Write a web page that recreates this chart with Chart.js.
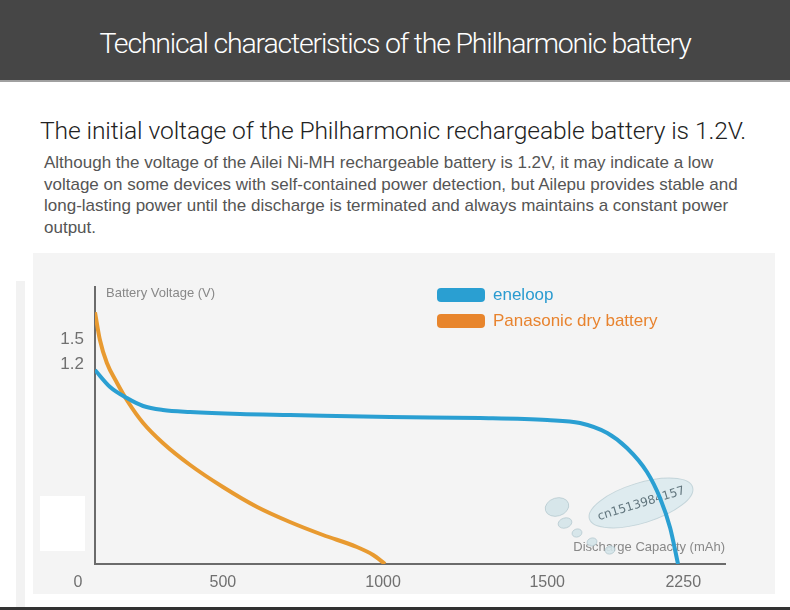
<!DOCTYPE html>
<html lang="en">
<head>
    <meta charset="UTF-8">
    <title>Philharmonic battery discharge</title>
    <script src="https://cdn.jsdelivr.net/npm/chart.js"></script>
    <style>
        body {
            margin: 0;
            width: 790px;
            height: 610px;
            background: #fff;
            position: relative;
            overflow: hidden;
            font-family: "Liberation Sans", Arial, sans-serif;
        }

        .header {
            position: absolute;
            left: 0; top: 0;
            width: 790px; height: 80px;
            background: #464646;
            border-bottom: 2px solid #a0a0a0;
        }

        .header h1 {
            margin: 0;
            position: absolute;
            left: 0; width: 790px;
            top: 25px;
            text-align: center;
            color: #fff;
            font-family: Roboto, sans-serif;
            font-weight: 300;
            font-size: 28.5px;
            letter-spacing: -1.2px;
            line-height: 38px;
        }

        .subtitle {
            position: absolute;
            left: 40px; top: 116px;
            margin: 0;
            font-family: Roboto, sans-serif;
            font-weight: 300;
            font-size: 24.6px;
            color: #222;
            letter-spacing: -0.1px;
            white-space: nowrap;
        }

        .para {
            position: absolute;
            left: 44px; top: 152px;
            margin: 0;
            font-size: 17px;
            line-height: 21.5px;
            color: #555;
            white-space: nowrap;
        }

        .panel {
            position: absolute;
            left: 33px; top: 253px;
            width: 742px; height: 341px;
            background: #f4f4f4;
        }

        .strip {
            position: absolute;
            left: 16px; top: 281px;
            width: 9px; height: 326px;
            background: #f2f2f2;
        }

        .patch {
            position: absolute;
            left: 40px; top: 496px;
            width: 45px; height: 55px;
            background: #fff;
        }

        .bottom-line {
            position: absolute;
            left: 0; top: 607px;
            width: 790px; height: 3px;
            background: #333;
        }

        #chart {
            position: absolute;
            left: 0; top: 0;
        }

        .legend {
            position: absolute;
            left: 437px; top: 282px;
            font-size: 17px;
        }

        .legend-item {
            display: flex;
            align-items: center;
            height: 26px;
        }

        .legend-item i {
            display: inline-block;
            width: 48px; height: 14px;
            border-radius: 4px;
            margin-right: 8px;
        }
    </style>
</head>
<body>
    <div class="header"><h1>Technical characteristics of the Philharmonic battery</h1></div>
    <p class="subtitle">The initial voltage of the Philharmonic rechargeable battery is 1.2V.</p>
    <p class="para">Although the voltage of the Ailei Ni-MH rechargeable battery is 1.2V, it may indicate a low<br>voltage on some devices with self-contained power detection, but Ailepu provides stable and<br>long-lasting power until the discharge is terminated and always maintains a constant power<br>output.</p>

    <div class="strip"></div>
    <div class="panel"></div>
    <div class="patch"></div>
    <div class="bottom-line"></div>

    <canvas id="chart" width="790" height="610"></canvas>

    <div class="legend">
        <div class="legend-item" style="color:#2a9bd0"><i style="background:#2a9fd2"></i>eneloop</div>
        <div class="legend-item" style="color:#e8832e"><i style="background:#e8852c"></i>Panasonic dry battery</div>
    </div>

    <script>
        // discharge capacity (mAh) and voltage (V)
        const eneloopCapacity = [0, 52, 110, 166, 234, 328, 500, 672, 1017, 1328, 1559, 1672, 1766, 1834, 1903, 1948, 1983, 2010];
        const eneloopVoltage = [1.164, 1.062, 0.996, 0.948, 0.924, 0.912, 0.9, 0.894, 0.882, 0.876, 0.864, 0.846, 0.786, 0.696, 0.552, 0.396, 0.216, 0];

        const dryCapacity = [0, 17, 41, 76, 114, 166, 234, 328, 441, 559, 672, 786, 903, 959, 1000];
        const dryVoltage = [1.51, 1.344, 1.206, 1.086, 0.972, 0.846, 0.726, 0.594, 0.462, 0.342, 0.252, 0.174, 0.102, 0.054, 0];

        // tick labels and where they sit on the axes
        const xTickLabels = ["0", "500", "1000", "1500", "2250"];
        const xTickAt = [-59, 441, 993, 1559, 2028];
        const yTickLabels = ["1.5", "1.2"];
        const yTickAt = [1.35, 1.2];

        const seriesNames = ["eneloop", "Panasonic dry battery"];

        const toPoints = (xs, ys) => xs.map((x, i) => ({ x: x, y: ys[i] }));

        // axis titles and the watermark bubbles, drawn under the lines
        const decorations = {
            id: 'decorations',
            beforeDatasetsDraw(chart) {
                const ctx = chart.ctx;
                const area = chart.chartArea;
                ctx.save();
                ctx.fillStyle = '#888';
                ctx.font = '13px "Liberation Sans", Arial, sans-serif';
                ctx.textBaseline = 'middle';
                ctx.textAlign = 'left';
                ctx.fillText('Battery Voltage (V)', area.left + 11, area.top + 6);
                ctx.textAlign = 'right';
                ctx.fillText('Discharge Capacity (mAh)', area.right, area.bottom - 17);

                // watermark
                const drops = [[557, 507, 12, 9], [565, 523, 7, 5], [577, 533, 5, 4], [592, 542, 5, 4], [610, 550, 5, 4]];
                drops.forEach(([cx, cy, rx, ry]) => {
                    ctx.beginPath();
                    ctx.ellipse(cx, cy, rx, ry, -0.3, 0, Math.PI * 2);
                    ctx.fillStyle = 'rgba(212,228,233,0.9)';
                    ctx.fill();
                    ctx.strokeStyle = 'rgba(180,200,206,0.8)';
                    ctx.lineWidth = 1;
                    ctx.stroke();
                });
                ctx.translate(641, 503);
                ctx.rotate(-0.3);
                ctx.beginPath();
                ctx.ellipse(0, 0, 54, 20, 0, 0, Math.PI * 2);
                ctx.fillStyle = 'rgba(220,234,238,0.95)';
                ctx.fill();
                ctx.strokeStyle = 'rgba(185,205,211,0.8)';
                ctx.stroke();
                ctx.fillStyle = '#62767e';
                ctx.font = '12px "DejaVu Sans", sans-serif';
                ctx.textAlign = 'center';
                ctx.fillText('cn1513984157', 0, 1);
                ctx.restore();
            }
        };

        new Chart(document.getElementById('chart'), {
            type: 'line',
            data: {
                datasets: [{
                    label: seriesNames[0],
                    data: toPoints(eneloopCapacity, eneloopVoltage),
                    borderColor: '#2a9fd2',
                    borderWidth: 4,
                    pointRadius: 0,
                    cubicInterpolationMode: 'monotone',
                    fill: false
                }, {
                    label: seriesNames[1],
                    data: toPoints(dryCapacity, dryVoltage),
                    borderColor: '#e89a30',
                    borderWidth: 4,
                    pointRadius: 0,
                    cubicInterpolationMode: 'monotone',
                    fill: false
                }]
            },
            options: {
                responsive: false,
                animation: false,
                layout: { padding: { top: 287, right: 65, left: 0, bottom: 0 } },
                plugins: {
                    legend: { display: false },
                    tooltip: { enabled: false }
                },
                scales: {
                    x: {
                        type: 'linear',
                        min: 0,
                        max: 2172,
                        grid: { display: false, drawTicks: false },
                        border: { color: '#6b6b6b', width: 2 },
                        afterBuildTicks: scale => { scale.ticks = xTickAt.map(v => ({ value: v })); },
                        afterFit: scale => { scale.height = 46; },
                        ticks: {
                            autoSkip: false,
                            maxRotation: 0,
                            padding: 9,
                            color: '#707070',
                            font: { family: '"Liberation Sans", Arial, sans-serif', size: 16 },
                            callback: (v, i) => xTickLabels[i]
                        }
                    },
                    y: {
                        type: 'linear',
                        min: 0,
                        max: 1.662,
                        grid: { display: false, drawTicks: false },
                        border: { color: '#6b6b6b', width: 2 },
                        afterBuildTicks: scale => { scale.ticks = yTickAt.map(v => ({ value: v })); },
                        afterFit: scale => { scale.width = 95; },
                        ticks: {
                            autoSkip: false,
                            padding: 11,
                            color: '#707070',
                            font: { family: '"Liberation Sans", Arial, sans-serif', size: 17 },
                            callback: (v, i) => yTickLabels[i]
                        }
                    }
                }
            },
            plugins: [decorations]
        });
    </script>
</body>
</html>
